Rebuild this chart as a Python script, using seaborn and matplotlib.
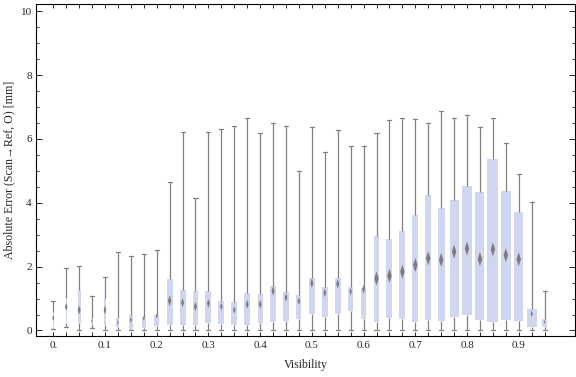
import numpy as np
import pandas as pd
import seaborn as sns
import matplotlib
matplotlib.use("Agg")
import matplotlib.pyplot as plt
from matplotlib.path import Path
from matplotlib.ticker import FixedLocator, FixedFormatter, MultipleLocator

# visibility bins (box centres)
visibility = [0.0, 0.025, 0.05, 0.075, 0.1, 0.125, 0.15, 0.175, 0.2, 0.225,
              0.25, 0.275, 0.3, 0.325, 0.35, 0.375, 0.4, 0.425, 0.45, 0.475,
              0.5, 0.525, 0.55, 0.575, 0.6, 0.625, 0.65, 0.675, 0.7, 0.725,
              0.75, 0.775, 0.8, 0.825, 0.85, 0.875, 0.9, 0.925, 0.95]

# five-number summaries of the absolute error [mm]
err_min = [0.05, 0.12, 0.0, 0.07, 0.0, 0.0, 0.0, 0.0, 0.0, 0.0,
           0.0, 0.0, 0.0, 0.0, 0.0, 0.0, 0.0, 0.0, 0.0, 0.0,
           0.0, 0.0, 0.0, 0.0, 0.0, 0.0, 0.0, 0.0, 0.0, 0.0,
           0.0, 0.0, 0.0, 0.0, 0.0, 0.0, 0.0, 0.0, 0.0]
err_q1 = [0.08, 0.23, 0.22, 0.20, 0.17, 0.12, 0.03, 0.09, 0.15, 0.17,
          0.17, 0.17, 0.24, 0.21, 0.17, 0.17, 0.24, 0.28, 0.31, 0.36,
          0.53, 0.43, 0.53, 0.62, 0.37, 0.28, 0.40, 0.37, 0.28, 0.34,
          0.31, 0.43, 0.50, 0.34, 0.28, 0.34, 0.31, 0.12, 0.12]
err_median = [0.39, 0.74, 0.64, 0.30, 0.64, 0.25, 0.33, 0.38, 0.45, 0.93,
              0.87, 0.75, 0.85, 0.75, 0.64, 0.82, 0.82, 1.24, 1.03, 0.92,
              1.48, 1.18, 1.46, 1.22, 1.29, 1.63, 1.71, 1.84, 2.05, 2.26,
              2.21, 2.47, 2.57, 2.23, 2.54, 2.36, 2.23, 0.52, 0.27]
err_q3 = [0.59, 1.03, 1.27, 0.38, 1.03, 0.40, 0.49, 0.43, 0.49, 1.61,
          1.27, 1.24, 1.24, 0.92, 0.89, 1.17, 1.14, 1.40, 1.21, 1.11,
          1.64, 1.36, 1.64, 1.35, 1.33, 2.96, 2.86, 3.11, 3.62, 4.24,
          3.83, 4.08, 4.52, 4.33, 5.37, 4.37, 3.71, 0.67, 0.36]
err_max = [0.92, 1.97, 2.02, 1.08, 1.68, 2.47, 2.33, 2.39, 2.52, 4.64,
           6.22, 4.14, 6.22, 6.30, 6.39, 6.64, 6.17, 6.49, 6.39, 5.01,
           6.36, 5.58, 6.27, 5.77, 5.77, 6.20, 6.58, 6.64, 6.61, 6.50,
           6.86, 6.64, 6.74, 6.38, 6.64, 5.86, 4.89, 4.03, 1.25]
# relative group size (box width relative to a typical bin)
rel_count = [0.17, 0.17, 0.5, 0.25, 0.5, 0.5, 0.62, 0.67, 0.83, 1.0,
             1.0, 1.0, 1.0, 1.0, 1.0, 1.0, 0.83, 1.05, 1.17, 0.83,
             1.0, 1.0, 1.0, 0.83, 0.83, 1.0, 1.0, 1.0, 1.0, 1.0,
             1.17, 1.5, 1.67, 1.5, 1.83, 1.67, 1.5, 1.67, 0.83]

x_ticks = [0.0, 0.1, 0.2, 0.3, 0.4, 0.5, 0.6, 0.7, 0.8, 0.9]
x_tick_labels = ["0.", "0.1", "0.2", "0.3", "0.4", "0.5", "0.6", "0.7", "0.8", "0.9"]

BOX_COLOR = "#ccd2f5"
LINE_COLOR = "#808080"
DIAMOND_COLOR = "#737373"

sns.set_theme(style="ticks", rc={
    "axes.linewidth": 0.8,
    "axes.edgecolor": "black",
    "xtick.direction": "in",
    "ytick.direction": "in",
    "xtick.top": True,
    "ytick.right": True,
    "font.size": 8,
})
plt.rcParams["font.family"] = ["Liberation Serif", "DejaVu Serif"]

# each box is described by its five numbers; with whiskers at 0/100 percentiles
# the quartiles of these five values reproduce the summary exactly
rows = []
for v, lo, q1, md, q3, hi in zip(visibility, err_min, err_q1, err_median, err_q3, err_max):
    for val in (lo, q1, md, q3, hi):
        rows.append({"Visibility": v, "Error": val})
df = pd.DataFrame(rows)

fig = plt.figure(figsize=(5.76, 3.77), dpi=100)
ax = fig.add_axes([0.0625, 0.109, 0.9355, 0.880])

step = 0.025
widths = [0.46 * step * r for r in rel_count]

sns.boxplot(
    data=df, x="Visibility", y="Error", orient="x", native_scale=True,
    whis=(0, 100), color=BOX_COLOR, linecolor=LINE_COLOR, linewidth=0.9,
    boxprops={"edgecolor": "none", "linewidth": 0},
    medianprops={"visible": False},
    widths=widths, capwidths=0.0078, showfliers=False, ax=ax,
)

# median diamonds, scaled with the spread of each bin
iqr_px = (np.array(err_q3) - np.array(err_q1)) * 31.95
diamond_h = np.clip(1.6 * np.sqrt(iqr_px), 2.8, 14.0)
diamond = Path([(0, 1), (0.32, 0), (0, -1), (-0.32, 0), (0, 1)],
               [Path.MOVETO, Path.LINETO, Path.LINETO, Path.LINETO, Path.CLOSEPOLY])
sns.scatterplot(x=visibility, y=err_median, marker=diamond,
                s=(diamond_h * 0.72) ** 2, color=DIAMOND_COLOR,
                linewidth=0, alpha=0.9, zorder=4, ax=ax, legend=False)

ax.set_xlim(-0.0334, 1.0085)
ax.set_ylim(-0.17, 10.22)

ax.xaxis.set_major_locator(FixedLocator(x_ticks))
ax.xaxis.set_major_formatter(FixedFormatter(x_tick_labels))
ax.xaxis.set_minor_locator(FixedLocator(visibility))
ax.yaxis.set_major_locator(MultipleLocator(2))
ax.yaxis.set_minor_locator(MultipleLocator(0.5))

ax.tick_params(axis="x", which="both", length=3, width=0.7, pad=4, labelsize=8)
ax.tick_params(axis="y", which="major", length=4, width=0.7, pad=3, labelsize=8)
ax.tick_params(axis="y", which="minor", length=2.2, width=0.6)

ax.set_xlabel("Visibility", fontsize=8.6, labelpad=6)
ax.set_ylabel("Absolute Error (Scan\u2192Ref, O) [mm]", fontsize=8.6, labelpad=4)

for spine in ax.spines.values():
    spine.set_visible(True)

fig.savefig("out.png", dpi=100)
